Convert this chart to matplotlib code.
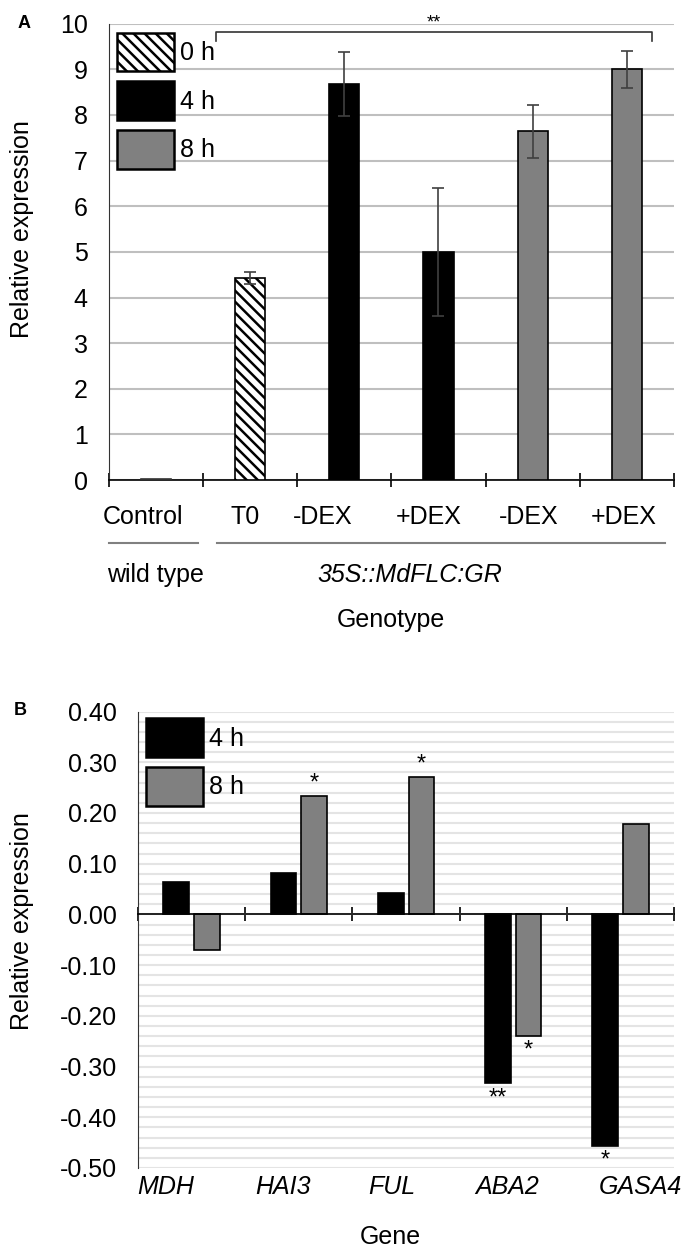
import matplotlib
matplotlib.use('Agg')
import matplotlib.pyplot as plt
from matplotlib.patches import Patch
import numpy as np

plt.rcParams['font.family'] = ['Liberation Sans', 'DejaVu Sans']
plt.rcParams['hatch.linewidth'] = 1.8

# panel A data
categories_a = ['Control', 'T0', '-DEX', '+DEX', '-DEX', '+DEX']
times_a = ['', '0 h', '4 h', '4 h', '8 h', '8 h']
values_a = [0.02, 4.42, 8.68, 4.99, 7.64, 9.00]
errors_a = [0.0, 0.13, 0.71, 1.40, 0.58, 0.40]
groups_a = ['wild type', '35S::MdFLC:GR']
label_shift_a = [-0.14, -0.05, -0.23, -0.10, -0.04, -0.04]

# panel B data
genes_b = ['MDH', 'HAI3', 'FUL', 'ABA2', 'GASA4']
values_b_4h = [0.064, 0.082, 0.043, -0.333, -0.456]
values_b_8h = [-0.071, 0.234, 0.270, -0.239, 0.178]
sig_b_4h = ['', '', '', '**', '*']
sig_b_8h = ['', '*', '*', '*', '']
label_shift_b = [-0.24, -0.15, -0.13, -0.06, 0.19]

GRAY = '#808080'
FS = 18


def style_for(t):
    if t == '0 h':
        return dict(facecolor='white', edgecolor='black', hatch='\\\\\\')
    if t == '4 h':
        return dict(facecolor='black', edgecolor='black')
    if t == '8 h':
        return dict(facecolor=GRAY, edgecolor='black')
    return dict(facecolor='white', edgecolor='#333333')


def panel_a(fig):
    ax = fig.add_axes([0.159, 0.615, 0.828, 0.366])
    x = np.arange(len(categories_a))
    for i in x:
        ax.bar(i, values_a[i], width=0.32, linewidth=1.2, zorder=3, **style_for(times_a[i]))
        if errors_a[i] > 0:
            ax.errorbar(i, values_a[i], yerr=errors_a[i], fmt='none', ecolor='#404040',
                        elinewidth=1.2, capsize=4, capthick=1.2, zorder=4)

    ax.set_xlim(-0.5, 5.5)
    ax.set_ylim(0, 10)
    ax.set_yticks(np.arange(0, 11, 1))
    ax.yaxis.grid(True, color='#bfbfbf', linewidth=1.5)
    ax.set_axisbelow(True)
    for s in ['top', 'right']:
        ax.spines[s].set_visible(False)
    ax.spines['left'].set_color('#333333')
    ax.spines['bottom'].set_linewidth(1.2)
    ax.tick_params(axis='y', length=0, pad=15, labelsize=FS)
    ax.set_xticks(np.arange(-0.5, 6, 1))
    ax.set_xticklabels([])
    ax.tick_params(axis='x', direction='inout', length=10, width=1.2)

    tr = ax.get_xaxis_transform()
    for i, c in enumerate(categories_a):
        ax.text(i + label_shift_a[i], -0.081, c, transform=tr, ha='center', va='center', fontsize=FS)
    # group underlines and names
    ax.plot([-0.5, 0.45], [-0.138, -0.138], transform=tr, color=GRAY, lw=1.5, clip_on=False)
    ax.plot([0.65, 5.4], [-0.138, -0.138], transform=tr, color=GRAY, lw=1.5, clip_on=False)
    ax.text(0, -0.208, groups_a[0], transform=tr, ha='center', va='center', fontsize=FS)
    ax.text(2.7, -0.208, groups_a[1], transform=tr, ha='center', va='center',
            fontsize=FS, style='italic')
    ax.text(0.5, -0.307, 'Genotype', transform=ax.transAxes, ha='center', va='center', fontsize=FS)

    # significance bracket
    left, right, top = 1 - 0.36, 5 + 0.26, 9.82
    ax.plot([left, left, right, right], [top - 0.2, top, top, top - 0.2],
            color='#333333', lw=1.2, clip_on=False, zorder=5)
    ax.text((left + right) / 2, top + 0.0, '**', ha='center', va='bottom', fontsize=13)

    handles = [Patch(linewidth=1.8, **style_for(t)) for t in ['0 h', '4 h', '8 h']]
    for h in handles:
        h.set_edgecolor('black')
    ax.legend(handles, ['0 h', '4 h', '8 h'], loc='upper left', bbox_to_anchor=(0.014, 0.98),
              frameon=False, fontsize=FS, handlelength=2.28, handleheight=2.0,
              labelspacing=0.4, handletextpad=0.25, borderpad=0, borderaxespad=0)
    return ax


def panel_b(fig):
    ax = fig.add_axes([0.202, 0.0634, 0.785, 0.366])
    x = np.arange(len(genes_b))
    off, w = 0.143, 0.24
    ax.bar(x - off, values_b_4h, width=w, color='black', edgecolor='black', lw=1.2, zorder=3)
    ax.bar(x + off, values_b_8h, width=w, color=GRAY, edgecolor='black', lw=1.2, zorder=3)

    for xs, vals, sig in [(x - off, values_b_4h, sig_b_4h), (x + off, values_b_8h, sig_b_8h)]:
        for xi, v, s in zip(xs, vals, sig):
            if not s:
                continue
            if v > 0:
                ax.text(xi, v + 0.003, s, ha='center', va='bottom', fontsize=17)
            else:
                ax.text(xi, v - 0.052, s, ha='center', va='bottom', fontsize=17)

    ticks = np.round(np.arange(-0.5, 0.41, 0.1), 2)
    ax.set_xlim(-0.5, 4.5)
    ax.set_ylim(-0.5, 0.4)
    ax.set_yticks(ticks)
    ax.set_yticklabels(['%.2f' % (t + 0.0) for t in ticks])
    ax.set_yticks(np.arange(-0.5, 0.41, 0.02), minor=True)
    ax.yaxis.grid(True, which='both', color='#e4e4e4', linewidth=1.5)
    ax.set_axisbelow(True)
    for s in ['top', 'right']:
        ax.spines[s].set_visible(False)
    ax.spines['left'].set_color('#333333')
    ax.spines['bottom'].set_position(('data', 0))
    ax.spines['bottom'].set_linewidth(1.2)
    ax.spines['bottom'].set_zorder(5)
    ax.tick_params(axis='y', which='both', length=0, pad=15, labelsize=FS)
    ax.set_xticks(np.arange(-0.5, 5, 1))
    ax.set_xticklabels([])
    ax.tick_params(axis='x', direction='inout', length=10, width=1.2)

    tr = ax.get_xaxis_transform()
    for i, g in enumerate(genes_b):
        ax.text(i + label_shift_b[i], -0.042, g, transform=tr, ha='center', va='center',
                fontsize=FS, style='italic', clip_on=False)
    ax.text(0.47, -0.151, 'Gene', transform=ax.transAxes, ha='center', va='center', fontsize=FS)

    handles = [Patch(facecolor='black', edgecolor='black', linewidth=1.8),
               Patch(facecolor=GRAY, edgecolor='black', linewidth=1.8)]
    ax.legend(handles, ['4 h', '8 h'], loc='upper left', bbox_to_anchor=(0.015, 0.985),
              frameon=False, fontsize=FS, handlelength=2.28, handleheight=2.0,
              labelspacing=0.4, handletextpad=0.25, borderpad=0, borderaxespad=0)
    return ax


def main():
    fig = plt.figure(figsize=(6.83, 12.47), dpi=100)
    panel_a(fig)
    panel_b(fig)
    fig.text(0.032, 0.816, 'Relative expression', rotation=90, ha='center', va='center', fontsize=FS)
    fig.text(0.032, 0.261, 'Relative expression', rotation=90, ha='center', va='center', fontsize=FS)
    fig.text(0.035, 0.981, 'A', fontweight='bold', fontsize=13, ha='center', va='center')
    fig.text(0.029, 0.430, 'B', fontweight='bold', fontsize=13, ha='center', va='center')
    fig.savefig('out.png', dpi=100)


if __name__ == "__main__":
    main()
